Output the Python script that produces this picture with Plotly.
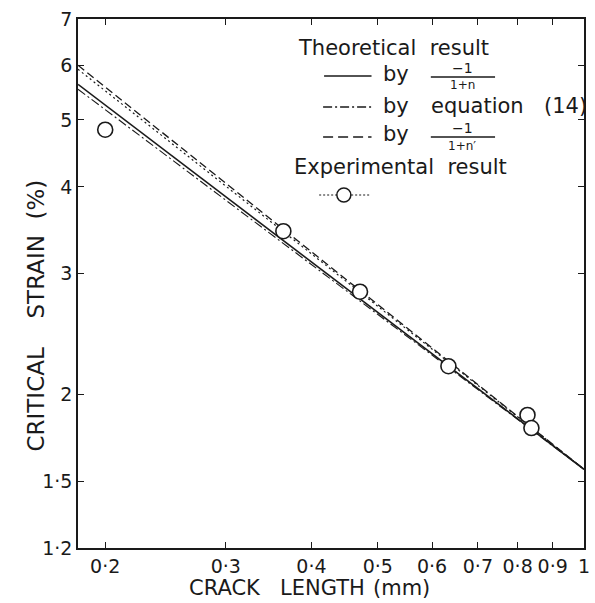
import plotly.graph_objects as go

# ---- data ----
crack_exp = [0.200, 0.364, 0.471, 0.634, 0.827, 0.838]
strain_exp = [4.84, 3.45, 2.82, 2.20, 1.87, 1.79]

line_x = [0.1825, 1.0]
strain_solid = [5.63, 1.56]      # by -1/(1+n)
strain_dashdot = [5.54, 1.56]    # by equation (14)
strain_dashed = [6.00, 1.56]     # by -1/(1+n')
strain_dotted = [5.92, 1.56]     # experimental trend

x_ticks = [0.2, 0.3, 0.4, 0.5, 0.6, 0.7, 0.8, 0.9, 1.0]
x_ticktext = ["0·2", "0·3", "0·4", "0·5", "0·6", "0·7", "0·8", "0·9", "1"]
y_ticks = [1.2, 1.5, 2, 3, 4, 5, 6, 7]
y_ticktext = ["1·2", "1·5", "2", "3", "4", "5", "6", "7"]

INK = "#1a1a1a"
FONT = "DejaVu Sans"
W, H = 595, 603
# plot area in page pixels: left 78, right 590, top 19, bottom 548
ML, MT = 78, 19
MR, MB = W - 590, H - 548
PW, PH = W - ML - MR, H - MT - MB


def px(x):
    return (x - ML) / PW


def py(y):
    return 1 - (y - MT) / PH


fig = go.Figure()
fig.add_trace(go.Scatter(x=line_x, y=strain_dotted, mode="lines",
                         line=dict(color=INK, width=1.2, dash="2px,3px"), showlegend=False))
fig.add_trace(go.Scatter(x=line_x, y=strain_dashed, mode="lines",
                         line=dict(color=INK, width=1.3, dash="8px,4px"), showlegend=False))
fig.add_trace(go.Scatter(x=line_x, y=strain_solid, mode="lines",
                         line=dict(color=INK, width=1.6), showlegend=False))
fig.add_trace(go.Scatter(x=line_x, y=strain_dashdot, mode="lines",
                         line=dict(color=INK, width=1.1, dash="9px,3px,2px,3px"), showlegend=False))
fig.add_trace(go.Scatter(x=crack_exp, y=strain_exp, mode="markers",
                         marker=dict(symbol="circle", size=15, color="white",
                                     line=dict(color=INK, width=1.6)),
                         showlegend=False))

ann = []
shapes = []


def text(x, y, s, size=21, anchor="left", angle=0):
    ann.append(dict(x=px(x), y=py(y), xref="paper", yref="paper", text=s,
                    showarrow=False, xanchor=anchor, yanchor="middle", textangle=angle,
                    borderpad=0,
                    font=dict(family=FONT, size=size, color=INK)))


def hline(x0, x1, y, dash="solid", width=1.5):
    shapes.append(dict(type="line", xref="paper", yref="paper",
                       x0=px(x0), x1=px(x1), y0=py(y), y1=py(y),
                       line=dict(color=INK, width=width, dash=dash)))


# manual legend (page pixel positions)
text(300, 48, "Theoretical\u00a0 result")
hline(327, 375, 76, "solid", 1.6)
text(386, 74, "by")
text(467, 68, "−1", 14, "center")
hline(435, 500, 77, "solid", 1.4)
text(467, 85, "1+n", 12, "center")

hline(326, 375, 107, "9px,3px,2px,3px", 1.3)
text(386, 106, "by")
text(434, 106, "equation")
text(549, 106, "(14)")

hline(326, 375, 137, "10px,5px", 1.4)
text(386, 134, "by")
text(467, 128, "−1", 14, "center")
hline(435, 500, 137, "solid", 1.4)
text(467, 146, "1+n′", 12, "center")

text(296, 167, "Experimental\u00a0 result")
hline(322, 373, 195, "2px,2px", 1.2)
shapes.append(dict(type="circle", xref="paper", yref="paper",
                   xsizemode="pixel", ysizemode="pixel",
                   xanchor=px(347), yanchor=py(195),
                   x0=-7, x1=7, y0=-7, y1=7,
                   fillcolor="white", line=dict(color=INK, width=1.5)))

# axis titles (split into words to match the wide spacing)
text(35, 400, "CRITICAL", 23, "center", -90)
text(35, 277, "STRAIN", 23, "center", -90)
text(35, 200, "(%)", 23, "center", -90)
text(227, 588, "CRACK", 21, "center")
text(325, 588, "LENGTH", 21, "center")
text(405, 588, "(mm)", 21, "center")

axis_common = dict(showgrid=False, zeroline=False, showline=True, linecolor=INK,
                   linewidth=1.6, mirror="ticks", ticks="inside", ticklen=6,
                   tickwidth=1.3, tickcolor=INK,
                   tickfont=dict(family=FONT, size=19, color=INK))

fig.update_layout(
    width=W, height=H,
    margin=dict(l=ML, r=MR, t=MT, b=MB),
    paper_bgcolor="white", plot_bgcolor="white",
    xaxis=dict(type="log", range=[-0.7387, 0.0], tickvals=x_ticks,
               ticktext=x_ticktext, **axis_common),
    yaxis=dict(type="log", range=[0.07918, 0.8451], tickvals=y_ticks,
               ticktext=y_ticktext, **axis_common),
    annotations=ann, shapes=shapes,
    showlegend=False,
)

fig.write_html("out.html",
               config={"displayModeBar": False},
               post_script="document.body.style.margin='0';document.body.style.overflow='hidden';")
